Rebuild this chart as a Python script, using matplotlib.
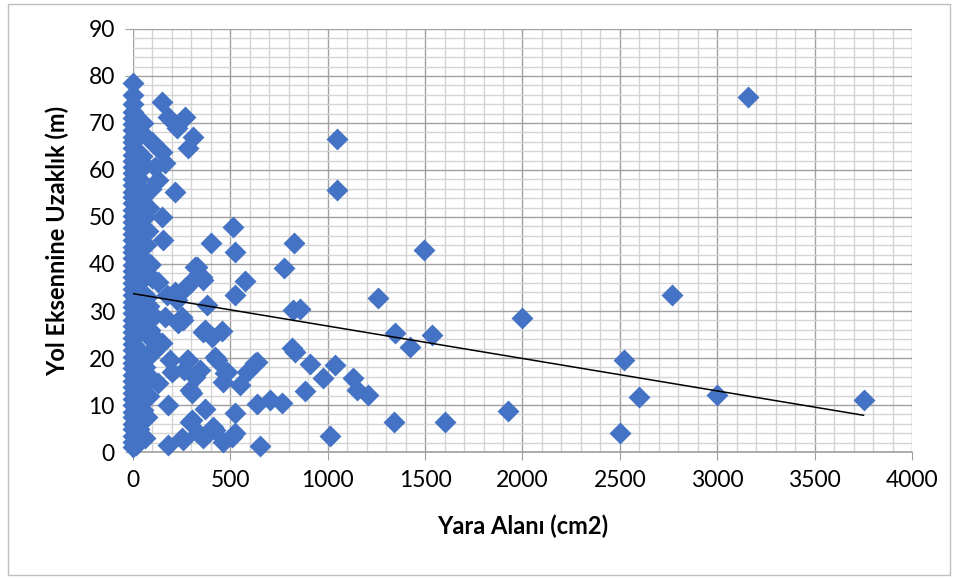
"""
Yara alanı - yol eksenine uzaklık saçılım grafiği.
"""

import matplotlib

matplotlib.use("Agg")

import matplotlib.pyplot as plt
import numpy as np
from matplotlib.patches import Rectangle
from matplotlib.ticker import MultipleLocator

# =============================================================================
# DATA
# =============================================================================

# x ~ 0 sütunu (yara alanı çok küçük olan ağaçlar)
sutun_uzaklik = [
    1.0, 2.2, 3.5, 4.8, 6.0, 7.4, 8.6, 10.0, 11.3, 12.5, 13.9, 15.2, 16.4,
    17.8, 19.0, 20.3, 21.7, 23.0, 24.2, 25.6, 26.9, 28.1, 29.5, 30.8, 32.0,
    33.4, 34.7, 35.9, 37.3, 38.6, 39.8, 41.2, 42.5, 43.7, 45.1, 46.4, 47.6,
    49.0, 50.3, 51.5, 52.9, 54.2, 55.4, 56.8, 58.1, 59.3, 60.7, 62.0, 63.2,
    64.6, 65.9, 67.1, 68.5, 69.8, 71.0, 72.4, 74.0, 76.0, 78.5,
]
sutun_alan = [0] * len(sutun_uzaklik)

# diğer noktalar
yara_alani = [
    # küçük alanlar
    30, 50, 40, 60, 25, 70, 45, 80, 35, 55, 90, 30, 65, 40, 80, 50, 30,
    60, 20, 40, 60, 80, 100, 90, 110, 75, 95, 100, 120, 50, 20, 70, 15,
    20, 15, 25, 10, 35, 20, 15, 30, 45, 60, 70, 55, 40, 85, 65,
    # 100 - 350
    149, 180, 267, 226, 308, 283, 98, 149, 164, 216, 128, 113, 149, 154,
    318, 354, 360, 128, 87, 267, 216, 175, 226, 252, 164, 231, 149, 98,
    190, 283, 318, 303, 128, 180, 303, 334, 180, 252, 329, 293, 257, 277,
    344, 293, 257, 293, 200, 260,
    # 350 - 700
    514, 401, 524, 575, 524, 380, 360, 457, 406, 637, 432, 586, 483, 462,
    550, 637, 370, 524, 411, 360, 524, 462, 652, 370, 421, 473, 421, 508,
    704, 766, 627,
    # 700 - 1250
    827, 776, 822, 858, 817, 832, 910, 1038, 976, 884, 1012, 1048, 1048,
    1130, 1151, 1208, 1259,
    # büyük alanlar
    1495, 1346, 1536, 1423, 1341, 1603, 1999, 1927, 2523, 2503, 2600,
    2770, 3001, 3160, 3751,
]
uzaklik = [
    5.0, 9.0, 14.0, 18.0, 22.0, 25.0, 28.0, 31.0, 34.0, 37.0, 40.0, 42.0,
    44.0, 47.0, 52.0, 55.0, 58.0, 61.0, 64.0, 68.0, 3.0, 12.0, 21.0, 16.0,
    29.0, 47.0, 56.0, 37.0, 24.0, 70.0, 10.0, 7.5, 1.5,
    30.0, 40.0, 50.0, 45.0, 26.0, 19.0, 12.0, 60.0, 63.0, 50.0, 33.0, 20.0,
    8.0, 26.0, 40.0,
    74.5, 71.3, 71.3, 68.9, 67.0, 64.7, 66.0, 63.8, 61.5, 55.3, 57.9, 60.6,
    50.0, 45.1, 39.4, 37.2, 36.6, 36.2, 39.8, 34.9, 34.0, 33.4, 32.3, 28.7,
    28.7, 27.4, 23.2, 21.7, 19.6, 19.6, 16.0, 12.6, 14.7, 10.0, 6.8, 4.0,
    1.5, 3.0, 39.4, 36.0, 28.1, 19.6, 17.4, 13.2, 2.6, 6.4, 17.0, 17.5,
    47.9, 44.4, 42.6, 36.4, 33.4, 31.3, 25.5, 25.7, 24.5, 19.1, 19.6, 17.0,
    17.0, 14.9, 14.3, 10.2, 9.1, 8.3, 5.3, 3.0, 4.0, 2.1, 1.3, 26.0, 20.2,
    16.8, 4.7, 3.2, 11.1, 10.4, 18.9,
    44.5, 39.1, 30.2, 30.4, 22.1, 21.3, 18.7, 18.5, 15.7, 13.0, 3.4, 66.6,
    55.7, 15.7, 13.2, 12.1, 32.8,
    43.0, 25.3, 24.9, 22.3, 6.4, 6.4, 28.5, 8.7, 19.6, 4.0, 11.7, 33.4,
    12.1, 75.5, 11.1,
]

# Excel doğrusal eğilim çizgisi
egilim_kesisim = 33.7
egilim_egim = -0.0069

X_ETIKET = "Yara Alanı (cm2)"
Y_ETIKET = "Yol Eksennine Uzaklık (m)"

# =============================================================================
# STYLE
# =============================================================================

MAVI = "#4472C4"
ANA_IZGARA = "#a0a0a0"
ARA_IZGARA = "#d4d4d4"
YAZI = "#000000"

plt.rcParams["font.family"] = ["Lato", "DejaVu Sans"]

# =============================================================================
# PLOT
# =============================================================================

figure = plt.figure(figsize=(9.6, 5.79), dpi=100)
axis = figure.add_axes([0.1385, 0.2193, 0.8115, 0.7307])

x = np.array(sutun_alan + yara_alani, dtype=float)
y = np.array(sutun_uzaklik + uzaklik, dtype=float)

axis.scatter(
    x,
    y,
    marker="D",
    s=125,
    color=MAVI,
    linewidths=0,
    zorder=3,
    clip_on=False,
)

egilim_x = np.array([x.min(), x.max()])
egilim_y = egilim_kesisim + egilim_egim * egilim_x
axis.plot(egilim_x, egilim_y, color="black", linewidth=1.1, zorder=4)

axis.set_xlim(0, 4000)
axis.set_ylim(0, 90)

axis.xaxis.set_major_locator(MultipleLocator(500))
axis.xaxis.set_minor_locator(MultipleLocator(100))
axis.yaxis.set_major_locator(MultipleLocator(10))
axis.yaxis.set_minor_locator(MultipleLocator(2))

axis.grid(which="major", color=ANA_IZGARA, linewidth=1.0, zorder=1)
axis.grid(which="minor", color=ARA_IZGARA, linewidth=1.0, zorder=0)
axis.set_axisbelow(True)

for side in ("top", "right", "left"):
    axis.spines[side].set_visible(False)
axis.spines["bottom"].set_color(ANA_IZGARA)
axis.spines["bottom"].set_linewidth(1.2)

axis.tick_params(
    which="major",
    length=6,
    color=ANA_IZGARA,
    labelsize=16.5,
    labelcolor=YAZI,
    pad=7,
)
axis.tick_params(which="minor", length=0)

axis.set_xlabel(X_ETIKET, fontsize=17, fontweight="bold", labelpad=17)
axis.set_ylabel(Y_ETIKET, fontsize=17, fontweight="bold", labelpad=14)

figure.patches.append(
    Rectangle(
        (8 / 960, 4 / 579),
        942 / 960,
        571 / 579,
        transform=figure.transFigure,
        fill=False,
        edgecolor="#bfbfbf",
        linewidth=1.0,
    )
)

figure.savefig("out.png", dpi=100)
